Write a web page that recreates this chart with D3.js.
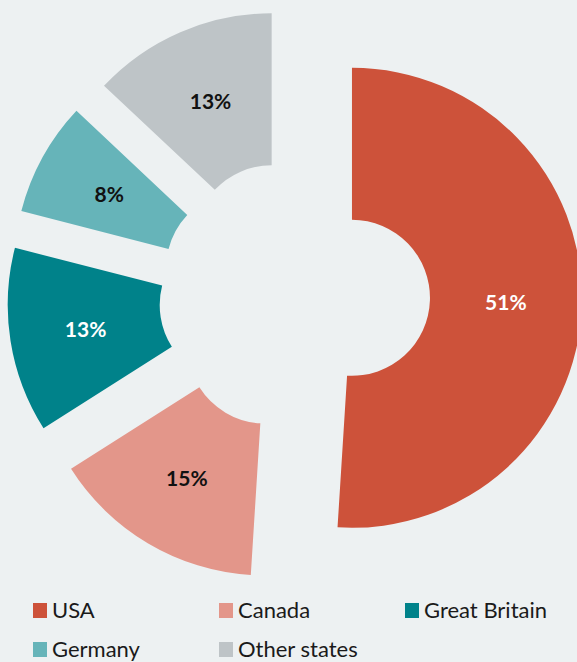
<!DOCTYPE html>
<html>
<head>
<meta charset="utf-8">
<script src="https://cdn.jsdelivr.net/npm/d3@7"></script>
<style>
  html, body { margin: 0; padding: 0; background: #edf1f2; }
  svg { display: block; }
</style>
</head>
<body>
<svg id="chart"></svg>
<script>
// data
var categories = ["USA", "Canada", "Great Britain", "Germany", "Other states"];
var shares = [51, 15, 13, 8, 13];
var colors = ["#cd523a", "#e3968a", "#00828a", "#66b4b9", "#bec4c7"];
var labelColors = ["#ffffff", "#111111", "#ffffff", "#111111", "#111111"];

var width = 577, height = 662;
var cx = 294.5, cy = 296;
var outerR = 230, innerR = 78, explode = 57.5;

var svg = d3.select("#chart")
  .attr("width", width)
  .attr("height", height);

svg.append("rect")
  .attr("width", width)
  .attr("height", height)
  .attr("fill", "#edf1f2");

var dataset = categories.map(function(c, i) {
  return { name: c, value: shares[i], color: colors[i], labelColor: labelColors[i] };
});

var pie = d3.pie()
  .sort(null)
  .value(function(d) { return d.value; });

var arc = d3.arc()
  .innerRadius(innerR)
  .outerRadius(outerR);

var slices = svg.append("g")
  .attr("transform", "translate(" + cx + "," + cy + ")")
  .selectAll(".slice")
  .data(pie(dataset))
  .enter()
  .append("g")
  .attr("class", "slice")
  .attr("transform", function(d) {
    var mid = (d.startAngle + d.endAngle) / 2;
    return "translate(" + (Math.sin(mid) * explode) + "," + (-Math.cos(mid) * explode) + ")";
  });

slices.append("path")
  .attr("d", arc)
  .attr("fill", function(d) { return d.data.color; });

slices.append("text")
  .attr("transform", function(d) { return "translate(" + arc.centroid(d) + ")"; })
  .attr("text-anchor", "middle")
  .attr("dy", "0.36em")
  .style("font-family", "Lato, sans-serif")
  .style("font-weight", "bold")
  .style("font-size", "21px")
  .attr("fill", function(d) { return d.data.labelColor; })
  .text(function(d) { return d.data.value + "%"; });

// legend, three per row
var legend = svg.append("g")
  .selectAll(".legend-item")
  .data(dataset)
  .enter()
  .append("g")
  .attr("class", "legend-item")
  .attr("transform", function(d, i) {
    return "translate(" + (33 + (i % 3) * 186) + "," + (603 + Math.floor(i / 3) * 39) + ")";
  });

legend.append("rect")
  .attr("width", 14)
  .attr("height", 15)
  .attr("fill", function(d) { return d.color; });

legend.append("text")
  .attr("x", 19)
  .attr("y", 15)
  .style("font-family", "Lato, sans-serif")
  .style("font-size", "22px")
  .attr("fill", "#1a1a1a")
  .text(function(d) { return d.name; });
</script>
</body>
</html>
